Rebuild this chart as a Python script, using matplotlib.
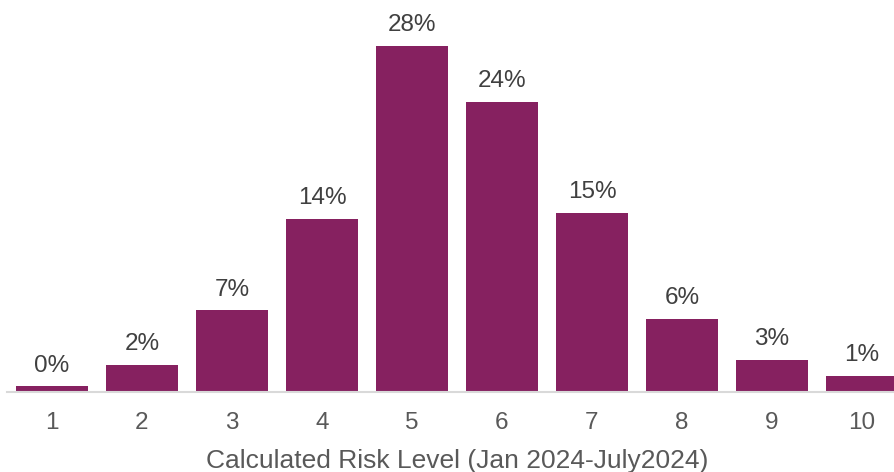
import matplotlib
matplotlib.use("Agg")
import matplotlib.pyplot as plt

# data
risk_levels = ["1", "2", "3", "4", "5", "6", "7", "8", "9", "10"]
share_pct = [0.45, 2.2, 6.6, 14.0, 28.0, 23.5, 14.5, 5.9, 2.6, 1.3]
share_labels = ["0%", "2%", "7%", "14%", "28%", "24%", "15%", "6%", "3%", "1%"]

plt.rcParams["font.family"] = ["Liberation Sans", "DejaVu Sans"]

W, H = 894, 472
fig = plt.figure(figsize=(W / 100, H / 100), dpi=100)
# axes placed in pixel terms: 90 px per category, baseline at y=392
ax = fig.add_axes([7 / W, 80 / H, 900 / W, 383 / H])

x = range(len(risk_levels))
bars = ax.bar(x, share_pct, width=0.8, color="#862160", edgecolor="none")

for rect, lab in zip(bars, share_labels):
    ax.annotate(lab, (rect.get_x() + rect.get_width() / 2, rect.get_height()),
                xytext=(0, 7), textcoords="offset points",
                ha="center", va="bottom", fontsize=17.5, color="#404040")

ax.set_xlim(-0.5, len(risk_levels) - 0.5)
ax.set_ylim(0, 31)
ax.set_xticks(list(x))
ax.set_xticklabels(risk_levels, fontsize=17.5, color="#595959")
ax.tick_params(axis="x", length=0, pad=14.5)
ax.set_yticks([])
for side in ["top", "right", "left"]:
    ax.spines[side].set_visible(False)
ax.spines["bottom"].set_color("#d9d9d9")
ax.spines["bottom"].set_linewidth(1.5)

fig.text(457 / W, -1 / H, "Calculated Risk Level (Jan 2024-July2024)",
         ha="center", va="bottom", fontsize=19, color="#595959")

fig.savefig("out.png", dpi=100)
